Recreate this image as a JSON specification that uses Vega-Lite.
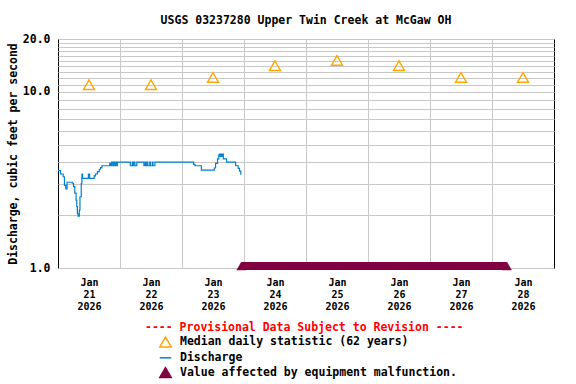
{
  "$schema": "https://vega.github.io/schema/vega-lite/v6.json",
  "width": 496,
  "height": 229,
  "autosize": "none",
  "padding": {"left": 58, "top": 39, "right": 22, "bottom": 116},
  "background": "white",
  "title": {
    "text": "USGS 03237280 Upper Twin Creek at McGaw OH",
    "font": "DejaVu Sans Mono",
    "fontSize": 11.5,
    "fontWeight": "bold",
    "color": "#000000",
    "anchor": "middle",
    "frame": "group",
    "baseline": "alphabetic",
    "offset": -2.5
  },
  "config": {
    "view": {"stroke": "#000000", "strokeWidth": 1},
    "legend": {
      "titleFont": "DejaVu Sans Mono",
      "titleFontSize": 11.5,
      "titleFontWeight": "bold",
      "titleColor": "#ff0000",
      "labelFont": "DejaVu Sans Mono",
      "labelFontSize": 11.5,
      "labelFontWeight": "bold",
      "labelColor": "#000000",
      "symbolSize": 130,
      "symbolStrokeWidth": 1.5,
      "rowPadding": 0.8,
      "titlePadding": 2,
      "labelOffset": 8,
      "padding": 0,
      "labelLimit": 0,
      "titleLimit": 0,
      "symbolOffset": 14
    }
  },
  "datasets": {
    "span": [
      {"t": "2026-01-23T23:00", "t2": "2026-01-28T05:45", "q": 0.974, "q2": 1.0817, "series": "Value affected by equipment malfunction."}
    ],
    "ends": [
      {"t": "2026-01-23T23:00", "q": 1.0265, "series": "Value affected by equipment malfunction."},
      {"t": "2026-01-28T05:45", "q": 1.0265, "series": "Value affected by equipment malfunction."}
    ],
    "median": [
      {"t": "2026-01-21T12:00", "q": 11.0, "series": "Median daily statistic (62 years)"},
      {"t": "2026-01-22T12:00", "q": 11.0, "series": "Median daily statistic (62 years)"},
      {"t": "2026-01-23T12:00", "q": 12.1, "series": "Median daily statistic (62 years)"},
      {"t": "2026-01-24T12:00", "q": 14.1, "series": "Median daily statistic (62 years)"},
      {"t": "2026-01-25T12:00", "q": 15.1, "series": "Median daily statistic (62 years)"},
      {"t": "2026-01-26T12:00", "q": 14.1, "series": "Median daily statistic (62 years)"},
      {"t": "2026-01-27T12:00", "q": 12.1, "series": "Median daily statistic (62 years)"},
      {"t": "2026-01-28T12:00", "q": 12.1, "series": "Median daily statistic (62 years)"}
    ],
    "discharge": [
      {"t": "2026-01-21T00:00", "q": 3.57, "series": "Discharge"},
      {"t": "2026-01-21T01:00", "q": 3.42, "series": "Discharge"},
      {"t": "2026-01-21T02:00", "q": 3.3, "series": "Discharge"},
      {"t": "2026-01-21T02:30", "q": 2.95, "series": "Discharge"},
      {"t": "2026-01-21T03:00", "q": 2.81, "series": "Discharge"},
      {"t": "2026-01-21T03:30", "q": 3.07, "series": "Discharge"},
      {"t": "2026-01-21T05:30", "q": 3.03, "series": "Discharge"},
      {"t": "2026-01-21T06:00", "q": 2.9, "series": "Discharge"},
      {"t": "2026-01-21T06:30", "q": 2.66, "series": "Discharge"},
      {"t": "2026-01-21T07:00", "q": 2.43, "series": "Discharge"},
      {"t": "2026-01-21T07:15", "q": 2.23, "series": "Discharge"},
      {"t": "2026-01-21T07:30", "q": 2.04, "series": "Discharge"},
      {"t": "2026-01-21T07:45", "q": 1.97, "series": "Discharge"},
      {"t": "2026-01-21T08:15", "q": 2.13, "series": "Discharge"},
      {"t": "2026-01-21T08:30", "q": 2.54, "series": "Discharge"},
      {"t": "2026-01-21T09:00", "q": 3.03, "series": "Discharge"},
      {"t": "2026-01-21T09:15", "q": 3.42, "series": "Discharge"},
      {"t": "2026-01-21T09:30", "q": 3.23, "series": "Discharge"},
      {"t": "2026-01-21T11:45", "q": 3.42, "series": "Discharge"},
      {"t": "2026-01-21T12:15", "q": 3.23, "series": "Discharge"},
      {"t": "2026-01-21T14:00", "q": 3.34, "series": "Discharge"},
      {"t": "2026-01-21T14:30", "q": 3.42, "series": "Discharge"},
      {"t": "2026-01-21T15:15", "q": 3.53, "series": "Discharge"},
      {"t": "2026-01-21T16:00", "q": 3.64, "series": "Discharge"},
      {"t": "2026-01-21T16:30", "q": 3.72, "series": "Discharge"},
      {"t": "2026-01-21T17:00", "q": 3.81, "series": "Discharge"},
      {"t": "2026-01-21T20:00", "q": 3.93, "series": "Discharge"},
      {"t": "2026-01-21T20:30", "q": 3.81, "series": "Discharge"},
      {"t": "2026-01-21T20:45", "q": 4.0, "series": "Discharge"},
      {"t": "2026-01-21T21:15", "q": 3.81, "series": "Discharge"},
      {"t": "2026-01-21T21:30", "q": 4.0, "series": "Discharge"},
      {"t": "2026-01-21T22:00", "q": 3.81, "series": "Discharge"},
      {"t": "2026-01-21T22:15", "q": 4.0, "series": "Discharge"},
      {"t": "2026-01-21T22:45", "q": 3.81, "series": "Discharge"},
      {"t": "2026-01-21T23:00", "q": 4.0, "series": "Discharge"},
      {"t": "2026-01-22T04:00", "q": 3.81, "series": "Discharge"},
      {"t": "2026-01-22T04:45", "q": 4.0, "series": "Discharge"},
      {"t": "2026-01-22T05:00", "q": 3.81, "series": "Discharge"},
      {"t": "2026-01-22T05:15", "q": 4.0, "series": "Discharge"},
      {"t": "2026-01-22T05:45", "q": 3.81, "series": "Discharge"},
      {"t": "2026-01-22T06:30", "q": 4.0, "series": "Discharge"},
      {"t": "2026-01-22T09:15", "q": 3.81, "series": "Discharge"},
      {"t": "2026-01-22T09:45", "q": 4.0, "series": "Discharge"},
      {"t": "2026-01-22T10:00", "q": 3.81, "series": "Discharge"},
      {"t": "2026-01-22T10:30", "q": 4.0, "series": "Discharge"},
      {"t": "2026-01-22T10:45", "q": 3.81, "series": "Discharge"},
      {"t": "2026-01-22T11:30", "q": 4.0, "series": "Discharge"},
      {"t": "2026-01-22T11:45", "q": 3.81, "series": "Discharge"},
      {"t": "2026-01-22T12:30", "q": 4.0, "series": "Discharge"},
      {"t": "2026-01-22T12:45", "q": 3.81, "series": "Discharge"},
      {"t": "2026-01-22T13:30", "q": 4.0, "series": "Discharge"},
      {"t": "2026-01-23T04:30", "q": 3.88, "series": "Discharge"},
      {"t": "2026-01-23T05:00", "q": 3.81, "series": "Discharge"},
      {"t": "2026-01-23T07:30", "q": 3.6, "series": "Discharge"},
      {"t": "2026-01-23T12:30", "q": 3.7, "series": "Discharge"},
      {"t": "2026-01-23T13:00", "q": 3.93, "series": "Discharge"},
      {"t": "2026-01-23T13:45", "q": 4.17, "series": "Discharge"},
      {"t": "2026-01-23T14:15", "q": 4.39, "series": "Discharge"},
      {"t": "2026-01-23T14:30", "q": 4.44, "series": "Discharge"},
      {"t": "2026-01-23T14:45", "q": 4.3, "series": "Discharge"},
      {"t": "2026-01-23T15:00", "q": 4.44, "series": "Discharge"},
      {"t": "2026-01-23T15:15", "q": 4.3, "series": "Discharge"},
      {"t": "2026-01-23T15:30", "q": 4.44, "series": "Discharge"},
      {"t": "2026-01-23T16:00", "q": 4.17, "series": "Discharge"},
      {"t": "2026-01-23T17:15", "q": 4.0, "series": "Discharge"},
      {"t": "2026-01-23T20:45", "q": 3.81, "series": "Discharge"},
      {"t": "2026-01-23T21:45", "q": 3.68, "series": "Discharge"},
      {"t": "2026-01-23T22:15", "q": 3.55, "series": "Discharge"},
      {"t": "2026-01-23T22:45", "q": 3.41, "series": "Discharge"},
      {"t": "2026-01-23T23:00", "q": 3.41, "series": "Discharge"}
    ]
  },
  "encoding": {
    "x": {
      "field": "t",
      "type": "temporal",
      "scale": {
        "domain": [
          {"year": 2026, "month": 1, "date": 21},
          {"year": 2026, "month": 1, "date": 29}
        ],
        "nice": false
      },
      "axis": {
        "title": null,
        "values": [
          {"year": 2026, "month": 1, "date": 21, "hours": 12},
          {"year": 2026, "month": 1, "date": 22, "hours": 0},
          {"year": 2026, "month": 1, "date": 22, "hours": 12},
          {"year": 2026, "month": 1, "date": 23, "hours": 0},
          {"year": 2026, "month": 1, "date": 23, "hours": 12},
          {"year": 2026, "month": 1, "date": 24, "hours": 0},
          {"year": 2026, "month": 1, "date": 24, "hours": 12},
          {"year": 2026, "month": 1, "date": 25, "hours": 0},
          {"year": 2026, "month": 1, "date": 25, "hours": 12},
          {"year": 2026, "month": 1, "date": 26, "hours": 0},
          {"year": 2026, "month": 1, "date": 26, "hours": 12},
          {"year": 2026, "month": 1, "date": 27, "hours": 0},
          {"year": 2026, "month": 1, "date": 27, "hours": 12},
          {"year": 2026, "month": 1, "date": 28, "hours": 0},
          {"year": 2026, "month": 1, "date": 28, "hours": 12}
        ],
        "labelExpr": "hours(datum.value) === 12 ? [timeFormat(datum.value, '%b'), timeFormat(datum.value, '%d'), timeFormat(datum.value, '%Y')] : ''",
        "grid": true,
        "gridColor": {"condition": {"test": "hours(datum.value) === 0", "value": "#c8c8c8"}, "value": "transparent"},
        "gridWidth": 1,
        "ticks": false,
        "tickSize": 0,
        "domain": false,
        "labelOverlap": false,
        "labelFont": "DejaVu Sans Mono",
        "labelFontSize": 10,
        "labelFontWeight": "bold",
        "labelColor": "#000000",
        "labelLineHeight": 12,
        "labelPadding": 9
      }
    },
    "y": {
      "field": "q",
      "type": "quantitative",
      "scale": {"type": "log", "domain": [1, 20], "nice": false},
      "axis": {
        "title": "Discharge, cubic feet per second",
        "values": [1, 2, 3, 4, 5, 6, 7, 8, 9, 10, 11, 12, 13, 14, 15, 16, 17, 18, 19, 20],
        "labelExpr": "datum.value === 1 || datum.value === 10 || datum.value === 20 ? format(datum.value, '.1f') : ''",
        "grid": true,
        "gridColor": "#c8c8c8",
        "gridWidth": 1,
        "ticks": false,
        "tickSize": 0,
        "domain": false,
        "labelOverlap": false,
        "labelFont": "DejaVu Sans Mono",
        "labelFontSize": 11.5,
        "labelFontWeight": "bold",
        "labelColor": "#000000",
        "labelPadding": 8,
        "titleFont": "DejaVu Sans Mono",
        "titleFontSize": 11.5,
        "titleFontWeight": "bold",
        "titleColor": "#000000",
        "titlePadding": 4
      }
    }
  },
  "layer": [
    {
      "data": {"name": "span"},
      "mark": {"type": "rect"},
      "encoding": {
        "x2": {"field": "t2"},
        "y2": {"field": "q2"},
        "fill": {
          "field": "series", "type": "nominal",
          "scale": {"domain": ["Median daily statistic (62 years)", "Discharge", "Value affected by equipment malfunction."], "range": ["transparent", "transparent", "#800040"]},
          "legend": {"title": "---- Provisional Data Subject to Revision ----", "orient": "none", "legendX": 87, "legendY": 283}
        }
      }
    },
    {
      "data": {"name": "ends"},
      "mark": {"type": "point", "size": 85, "strokeWidth": 0.5, "opacity": 1},
      "encoding": {
        "fill": {
          "field": "series", "type": "nominal",
          "scale": {"domain": ["Median daily statistic (62 years)", "Discharge", "Value affected by equipment malfunction."], "range": ["transparent", "transparent", "#800040"]},
          "legend": {"title": "---- Provisional Data Subject to Revision ----", "orient": "none", "legendX": 87, "legendY": 283}
        },
        "stroke": {
          "field": "series", "type": "nominal",
          "scale": {"domain": ["Median daily statistic (62 years)", "Discharge", "Value affected by equipment malfunction."], "range": ["#ffa500", "#0080d0", "#800040"]},
          "legend": {"title": "---- Provisional Data Subject to Revision ----", "orient": "none", "legendX": 87, "legendY": 283}
        },
        "shape": {
          "field": "series", "type": "nominal",
          "scale": {"domain": ["Median daily statistic (62 years)", "Discharge", "Value affected by equipment malfunction."], "range": ["triangle-up", "stroke", "triangle-up"]},
          "legend": {"title": "---- Provisional Data Subject to Revision ----", "orient": "none", "legendX": 87, "legendY": 283}
        }
      }
    },
    {
      "data": {"name": "discharge"},
      "mark": {"type": "line", "interpolate": "step-after", "strokeWidth": 1.2},
      "encoding": {
        "stroke": {
          "field": "series", "type": "nominal",
          "scale": {"domain": ["Median daily statistic (62 years)", "Discharge", "Value affected by equipment malfunction."], "range": ["#ffa500", "#0080d0", "#800040"]},
          "legend": {"title": "---- Provisional Data Subject to Revision ----", "orient": "none", "legendX": 87, "legendY": 283}
        }
      }
    },
    {
      "data": {"name": "median"},
      "mark": {"type": "point", "size": 121, "strokeWidth": 1.4, "opacity": 1},
      "encoding": {
        "fill": {
          "field": "series", "type": "nominal",
          "scale": {"domain": ["Median daily statistic (62 years)", "Discharge", "Value affected by equipment malfunction."], "range": ["transparent", "transparent", "#800040"]},
          "legend": {"title": "---- Provisional Data Subject to Revision ----", "orient": "none", "legendX": 87, "legendY": 283}
        },
        "stroke": {
          "field": "series", "type": "nominal",
          "scale": {"domain": ["Median daily statistic (62 years)", "Discharge", "Value affected by equipment malfunction."], "range": ["#ffa500", "#0080d0", "#800040"]},
          "legend": {"title": "---- Provisional Data Subject to Revision ----", "orient": "none", "legendX": 87, "legendY": 283}
        },
        "shape": {
          "field": "series", "type": "nominal",
          "scale": {"domain": ["Median daily statistic (62 years)", "Discharge", "Value affected by equipment malfunction."], "range": ["triangle-up", "stroke", "triangle-up"]},
          "legend": {"title": "---- Provisional Data Subject to Revision ----", "orient": "none", "legendX": 87, "legendY": 283}
        }
      }
    }
  ]
}
